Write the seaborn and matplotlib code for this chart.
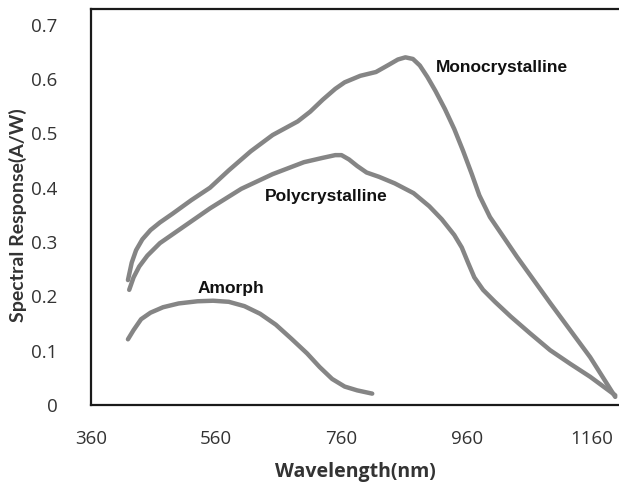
import matplotlib
matplotlib.use("Agg")
import matplotlib.pyplot as plt
import seaborn as sns
import pandas as pd

# Data
mono_wl = [419, 425, 432, 442, 455, 470, 490, 520, 550, 580, 615, 650, 690, 710, 730, 750, 765, 790,
           815, 835, 850, 862, 874, 885, 897, 910, 925, 940, 954, 968, 980, 997, 1040, 1093, 1157, 1197]
mono_resp = [0.230, 0.262, 0.285, 0.305, 0.322, 0.336, 0.352, 0.377, 0.400, 0.432, 0.467, 0.497, 0.522,
             0.540, 0.562, 0.582, 0.594, 0.606, 0.613, 0.626, 0.636, 0.640, 0.637, 0.625, 0.604, 0.578,
             0.545, 0.508, 0.468, 0.425, 0.386, 0.346, 0.273, 0.188, 0.088, 0.015]

poly_wl = [421, 428, 437, 450, 470, 500, 550, 600, 650, 700, 730, 750, 760, 772, 785, 800, 820, 845,
           875, 900, 920, 940, 952, 962, 972, 986, 1005, 1030, 1060, 1093, 1125, 1157, 1197]
poly_resp = [0.212, 0.235, 0.255, 0.275, 0.298, 0.322, 0.362, 0.398, 0.425, 0.447, 0.455, 0.460, 0.460,
             0.452, 0.440, 0.428, 0.420, 0.408, 0.390, 0.366, 0.342, 0.313, 0.290, 0.262, 0.235, 0.212,
             0.190, 0.163, 0.133, 0.101, 0.076, 0.052, 0.018]

amorph_wl = [419, 428, 440, 455, 475, 500, 530, 555, 580, 605, 630, 655, 680, 705, 725, 745, 765, 785, 809]
amorph_resp = [0.121, 0.138, 0.158, 0.170, 0.180, 0.187, 0.191, 0.192, 0.190, 0.182, 0.168, 0.148, 0.122,
               0.095, 0.070, 0.048, 0.034, 0.027, 0.021]

series_names = ["Monocrystalline", "Polycrystalline", "Amorph"]
x_ticks = [360, 560, 760, 960, 1160]
y_ticks = [0, 0.1, 0.2, 0.3, 0.4, 0.5, 0.6, 0.7]
y_ticklabels = ["0", "0.1", "0.2", "0.3", "0.4", "0.5", "0.6", "0.7"]

frames = []
for name, wl, resp in zip(series_names,
                          [mono_wl, poly_wl, amorph_wl],
                          [mono_resp, poly_resp, amorph_resp]):
    frames.append(pd.DataFrame({"Wavelength": wl, "Response": resp, "Type": name}))
df = pd.concat(frames, ignore_index=True)

sns.set_style("white")
plt.rcParams["font.family"] = ["Open Sans", "DejaVu Sans"]

fig = plt.figure(figsize=(6.19, 4.88), dpi=100)
ax = fig.add_axes([0.147, 0.170, 0.853, 0.8116])

line_color = "#858585"
sns.lineplot(data=df, x="Wavelength", y="Response", hue="Type",
             palette={n: line_color for n in series_names},
             sort=False, estimator=None, legend=False, linewidth=3.2, ax=ax)
for ln in ax.get_lines():
    ln.set_solid_capstyle("round")
    ln.set_solid_joinstyle("round")

ax.set_xlim(360, 1203)
ax.set_ylim(0, 0.729)
ax.set_xticks(x_ticks)
ax.set_xticklabels([str(t) for t in x_ticks])
ax.set_yticks(y_ticks)
ax.set_yticklabels(y_ticklabels)
ax.tick_params(axis="both", length=0, labelsize=13.5, colors="#333333", pad=0)
ax.tick_params(axis="x", pad=18)
ax.tick_params(axis="y", pad=24)

for side in ["left", "top", "bottom"]:
    ax.spines[side].set_color("#1a1a1a")
    ax.spines[side].set_linewidth(1.6)
ax.spines["right"].set_visible(False)

ax.set_xlabel("Wavelength(nm)", fontsize=14, fontweight="bold", color="#333333", labelpad=10)
ax.set_ylabel("Spectral Response(A/W)", fontsize=14, fontweight="bold", color="#333333",
              family=["Lato", "DejaVu Sans"])
ax.yaxis.set_label_coords(-0.121, 0.48)

label_font = ["Liberation Sans", "DejaVu Sans"]
ax.text(910, 0.622, "Monocrystalline", fontsize=12.5, fontweight="bold", family=label_font,
        ha="left", va="center", color="#111111")
ax.text(637, 0.383, "Polycrystalline", fontsize=12.5, fontweight="bold", family=label_font,
        ha="left", va="center", color="#111111")
ax.text(530, 0.214, "Amorph", fontsize=12.5, fontweight="bold", family=label_font,
        ha="left", va="center", color="#111111")

fig.savefig("out.png", dpi=100)
